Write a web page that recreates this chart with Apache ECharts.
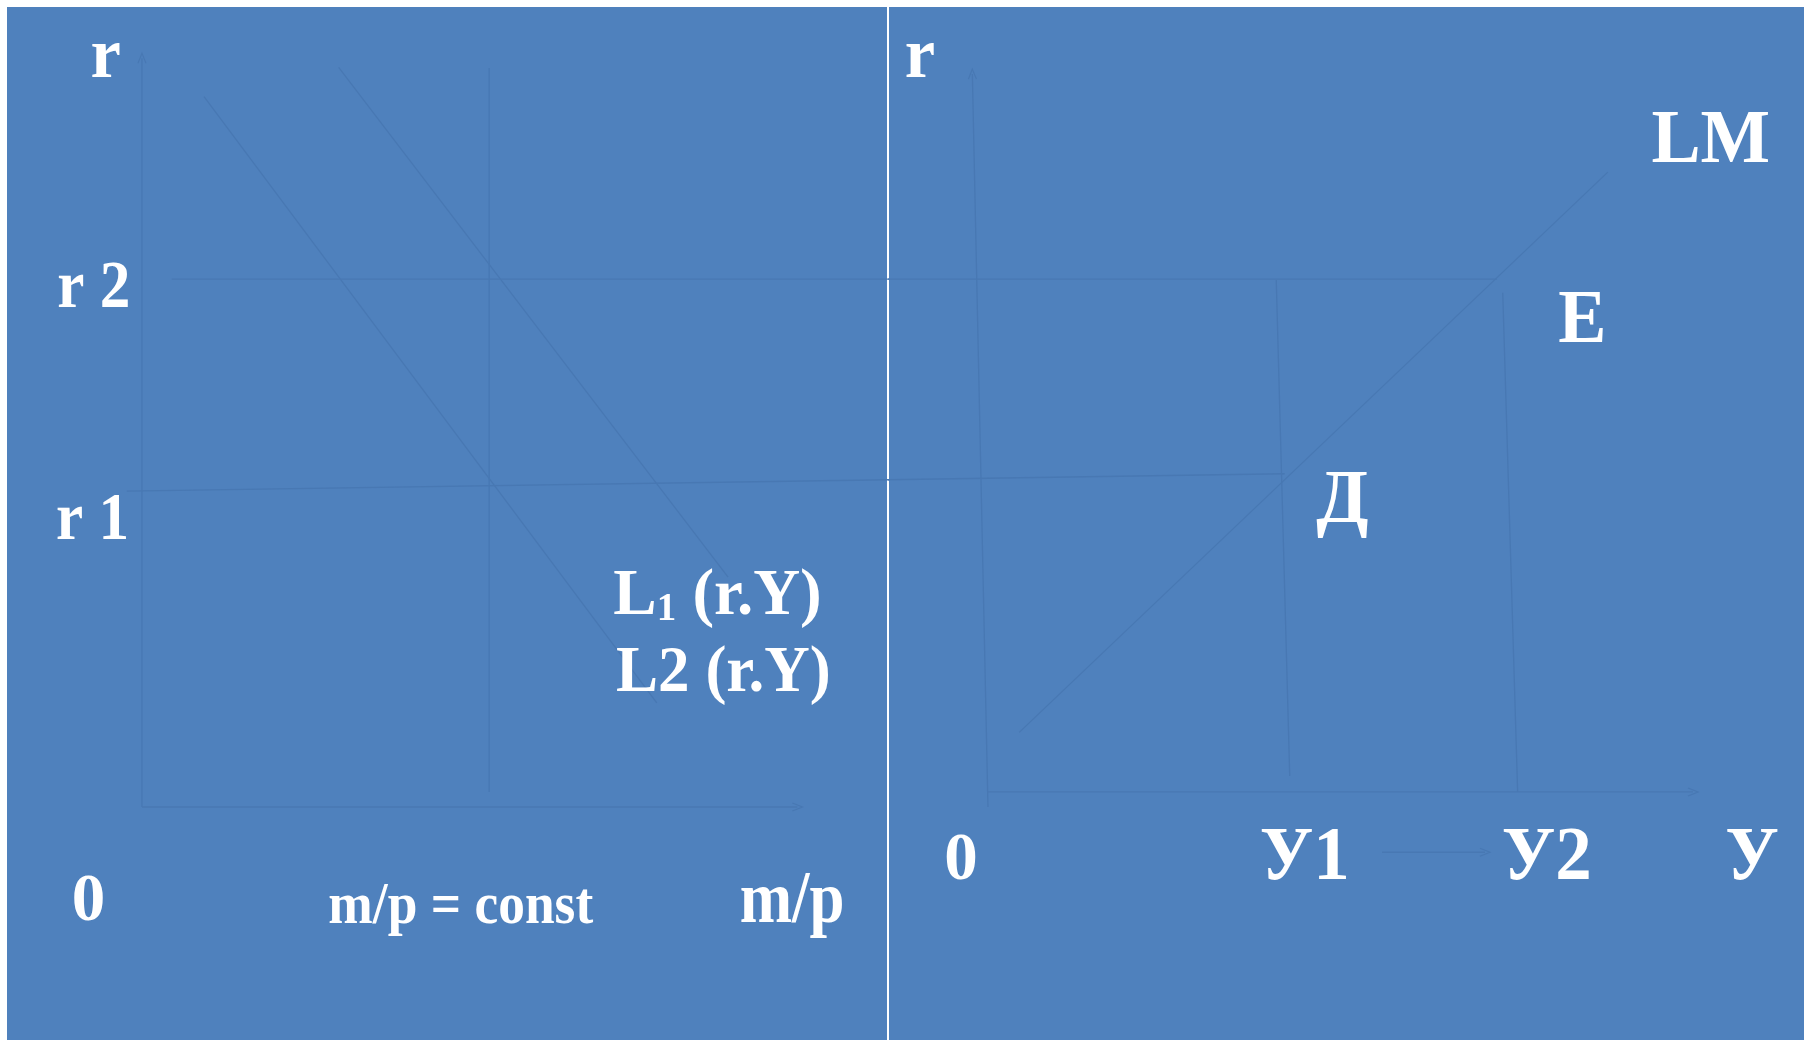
<!DOCTYPE html>
<html>
<head>
<meta charset="utf-8">
<title>L (r.Y) / LM</title>
<script src="https://cdn.jsdelivr.net/npm/echarts@6/dist/echarts.min.js"></script>
<style>
  html, body { margin: 0; padding: 0; background: #fff; }
  #main { width: 1810px; height: 1040px; }
</style>
</head>
<body>
<div id="main"></div>
<script>
// left panel: x = m/p, y = r   (origin at the axes corner)
const leftAxisY = [[0, 0], [0, 9.93]];
const leftAxisX = [[0, 0], [9.93, 0]];
const constLine = [[5.26, 9.8], [5.26, 0.2]];
const curveL1 = [[2.98, 9.81], [8.88, 3.05]];
const curveL2 = [[0.94, 9.42], [7.8, 1.38]];
const r2Left = [[0.45, 7.0], [11.32, 7.0]];
const r1Left = [[-0.23, 4.19], [11.32, 4.34]];

// right panel: x = Y, y = r
const rightAxisY = [[0, 0], [-0.22, 9.72]];
const rightAxisX = [[0, 0.2], [9.93, 0.2]];
const lmCurve = [[0.44, 0.99], [8.73, 8.42]];
const r2Right = [[-1.42, 7.0], [7.17, 7.0]];
const r1Right = [[-1.42, 4.34], [4.18, 4.42]];
const y1Line = [[4.06, 6.99], [4.25, 0.41]];
const y2Line = [[7.25, 6.82], [7.46, 0.2]];
const shiftArrow = [[5.55, -0.6], [7.0, -0.6]];

// labels: [x, r, text]
const leftLabels = [
  [-0.55, 9.93, 'r'],
  [-0.73, 6.87, 'r 2'],
  [-0.75, 3.79, 'r 1'],
  [-0.81, -1.27, '0'],
  [4.83, -1.33, 'm/p = const'],
  [9.85, -1.27, 'm/p'],
  [8.72, 2.78, 'L1 (r.Y)'],
  [8.81, 1.76, 'L2 (r.Y)']
];
const rightLabels = [
  [-0.96, 9.93, 'r'],
  [10.18, 8.81, 'LM'],
  [8.37, 6.43, 'E'],
  [4.99, 4.04, 'Д'],
  [-0.38, -0.72, '0'],
  [4.46, -0.69, 'У1'],
  [7.87, -0.69, 'У2'],
  [10.76, -0.69, 'У']
];

const bg = '#4F81BD';
const lineColor = '#4878B3';
const fontFamily = '"Liberation Serif", "Times New Roman", serif';
// font size and horizontal squeeze per label
const labelFont = {
  'r': [72, 0.95],
  'r 2': [68, 0.9],
  'r 1': [68, 0.9],
  '0': [67, 1],
  'm/p = const': [60, 0.89],
  'm/p': [74, 0.85],
  'L1 (r.Y)': [65, 1],
  'L2 (r.Y)': [65, 0.97],
  'LM': [76, 0.97],
  'E': [76, 0.95],
  'Д': [76, 1],
  'У1': [76, 0.96],
  'У2': [76, 0.96],
  'У': [76, 0.96]
};
const arrowHead = 'path://M0,12 L5,0 L10,12';

const myChart = echarts.init(document.getElementById('main'));

function seg(data, grid, arrowRotate) {
  const pts = data.map((d) => ({ value: d, symbol: 'none' }));
  if (arrowRotate !== undefined) {
    pts[pts.length - 1] = {
      value: data[data.length - 1],
      symbol: arrowHead,
      symbolSize: [8, 10],
      symbolRotate: arrowRotate
    };
  }
  return {
    type: 'line',
    xAxisIndex: grid,
    yAxisIndex: grid,
    data: pts,
    showSymbol: true,
    clip: false,
    silent: true,
    z: 2,
    itemStyle: { color: 'rgba(0,0,0,0)', borderColor: lineColor, borderWidth: 1.3 },
    lineStyle: { color: lineColor, width: 1.3 }
  };
}

function textStyle(text) {
  const f = labelFont[text] || [76, 1];
  const base = { fill: '#fff', fontFamily, fontWeight: 'bold', fontSize: f[0] };
  if (text === 'L1 (r.Y)') {
    // small "1" after L, sitting on the same baseline
    return Object.assign({}, base, {
      text: '{a|L}{b|1}{a| (r.Y)}',
      rich: {
        a: { fill: '#fff', fontFamily, fontWeight: 'bold', fontSize: f[0], lineHeight: f[0], verticalAlign: 'bottom' },
        b: { fill: '#fff', fontFamily, fontWeight: 'bold', fontSize: 39, lineHeight: 48, verticalAlign: 'bottom' }
      }
    });
  }
  return Object.assign({}, base, { text });
}

function labelSeries(grid, labels) {
  return {
    type: 'custom',
    xAxisIndex: grid,
    yAxisIndex: grid,
    data: labels.map((l) => [l[0], l[1]]),
    clip: false,
    silent: true,
    z: 5,
    renderItem: (params, api) => {
      const p = api.coord([api.value(0), api.value(1)]);
      const text = labels[params.dataIndex][2];
      const f = labelFont[text] || [76, 1];
      return {
        type: 'text',
        x: p[0],
        y: p[1],
        scaleX: f[1],
        style: Object.assign(textStyle(text), { align: 'center', verticalAlign: 'middle' })
      };
    }
  };
}

myChart.setOption({
  animation: false,
  backgroundColor: '#fff',
  grid: [
    { show: true, backgroundColor: bg, borderWidth: 0, left: 7, top: 7, width: 880, height: 1033 },
    { show: true, backgroundColor: bg, borderWidth: 0, left: 889, top: 7, width: 915, height: 1033 }
  ],
  xAxis: [
    { type: 'value', gridIndex: 0, min: -2.045, max: 11.288, show: false },
    { type: 'value', gridIndex: 1, min: -1.394, max: 11.493, show: false }
  ],
  yAxis: [
    { type: 'value', gridIndex: 0, min: -3.09, max: 10.61, show: false },
    { type: 'value', gridIndex: 1, min: -3.09, max: 10.61, show: false }
  ],
  series: [
    seg(leftAxisY, 0, 0),
    seg(leftAxisX, 0, -90),
    seg(constLine, 0),
    seg(curveL1, 0),
    seg(curveL2, 0),
    seg(r2Left, 0),
    seg(r1Left, 0),
    seg(rightAxisY, 1, 1),
    seg(rightAxisX, 1, -90),
    seg(lmCurve, 1),
    seg(r2Right, 1),
    seg(r1Right, 1),
    seg(y1Line, 1),
    seg(y2Line, 1),
    seg(shiftArrow, 1, -90),
    labelSeries(0, leftLabels),
    labelSeries(1, rightLabels)
  ]
});
</script>
</body>
</html>
